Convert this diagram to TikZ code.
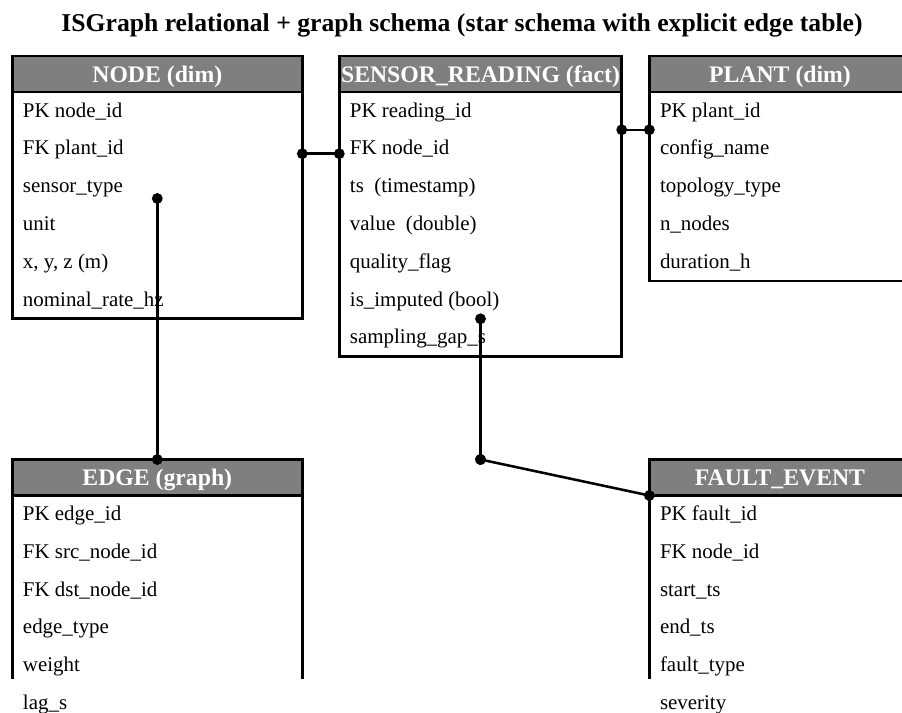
\documentclass[tikz,border=0pt]{standalone}
\usepackage{fontspec}
\setmainfont{Liberation Serif}
\usetikzlibrary{arrows.meta,positioning,calc}
\definecolor{tabgray}{HTML}{7F7F7F}

\begin{document}
\begin{tikzpicture}[
  x=0.75pt, y=-0.75pt,
  tabline/.style={line width=2.2pt},
  thead/.style={draw, tabline, fill=tabgray, text=white, minimum height=27pt,
                inner sep=0pt, outer sep=0pt, text height=14pt, text depth=1.7pt,
                font=\fontsize{17.8}{20}\selectfont\bfseries},
  fieldrow/.style={minimum height=28.35pt, inner xsep=8pt, inner ysep=0pt,
                   outer sep=0pt, text height=11.5pt, text depth=2.3pt,
                   font=\fontsize{15.7}{18}\selectfont},
  rel/.style={line width=1.9pt, {Circle[length=8pt]}-{Circle[length=8pt]},
              shorten <=-4pt, shorten >=-4pt},
  ttl/.style={font=\fontsize{19.25}{22}\selectfont\bfseries},
]
\clip (0,0) rectangle (902,713);

% ===== title =====
\node[ttl, anchor=base] (title) at (462,32)
  {ISGraph relational + graph schema (star schema with explicit edge table)};

% ===== NODE (dim) =====
\node[thead, minimum width=217.5pt] (nodeh) at (157.3,74) {NODE (dim)};
\node[fieldrow, below right=0pt of nodeh.south west] (node1) {PK node\_id};
\node[fieldrow, below right=0pt of node1.south west] (node2) {FK plant\_id};
\node[fieldrow, below right=0pt of node2.south west] (node3) {sensor\_type};
\node[fieldrow, below right=0pt of node3.south west] (node4) {unit};
\node[fieldrow, below right=0pt of node4.south west] (node5) {x, y, z (m)};
\node[fieldrow, below right=0pt of node5.south west] (node6) {nominal\_rate\_hz};
\draw[tabline] (nodeh.south west) rectangle (nodeh.south east |- node6.south);

% ===== SENSOR_READING (fact) =====
\node[thead, minimum width=211.8pt] (srh) at (480.5,74) {SENSOR\_READING (fact)};
\node[fieldrow, below right=0pt of srh.south west] (sr1) {PK reading\_id};
\node[fieldrow, below right=0pt of sr1.south west] (sr2) {FK node\_id};
\node[fieldrow, below right=0pt of sr2.south west] (sr3) {ts\ \ (timestamp)};
\node[fieldrow, below right=0pt of sr3.south west] (sr4) {value\ \ (double)};
\node[fieldrow, below right=0pt of sr4.south west] (sr5) {quality\_flag};
\node[fieldrow, below right=0pt of sr5.south west] (sr6) {is\_imputed (bool)};
\node[fieldrow, below right=0pt of sr6.south west] (sr7) {sampling\_gap\_s};
\draw[tabline] (srh.south west) rectangle (srh.south east |- sr7.south);

% ===== PLANT (dim) =====
\node[thead, minimum width=196pt] (planth) at (780,74) {PLANT (dim)};
\node[fieldrow, below right=0pt of planth.south west] (plant1) {PK plant\_id};
\node[fieldrow, below right=0pt of plant1.south west] (plant2) {config\_name};
\node[fieldrow, below right=0pt of plant2.south west] (plant3) {topology\_type};
\node[fieldrow, below right=0pt of plant3.south west] (plant4) {n\_nodes};
\node[fieldrow, below right=0pt of plant4.south west] (plant5) {duration\_h};
\draw[tabline] (planth.south west) rectangle (planth.south east |- plant5.south);

% ===== lower tables, cut off at the page edge =====
\coordinate (cut) at (0,679);

% EDGE (graph)
\node[thead, minimum width=217.5pt] (edgeh) at (157.3,477.5) {EDGE (graph)};
\node[fieldrow, below right=0pt of edgeh.south west] (edge1) {PK edge\_id};
\node[fieldrow, below right=0pt of edge1.south west] (edge2) {FK src\_node\_id};
\node[fieldrow, below right=0pt of edge2.south west] (edge3) {FK dst\_node\_id};
\node[fieldrow, below right=0pt of edge3.south west] (edge4) {edge\_type};
\node[fieldrow, below right=0pt of edge4.south west] (edge5) {weight};
\node[fieldrow, below right=0pt of edge5.south west] (edge6) {lag\_s};
\draw[tabline] (edgeh.south west) -- (edgeh.south west |- cut);
\draw[tabline] (edgeh.south east) -- (edgeh.south east |- cut);

% FAULT_EVENT
\node[thead, minimum width=196pt] (faulth) at (780,477.5) {FAULT\_EVENT};
\node[fieldrow, below right=0pt of faulth.south west] (fault1) {PK fault\_id};
\node[fieldrow, below right=0pt of fault1.south west] (fault2) {FK node\_id};
\node[fieldrow, below right=0pt of fault2.south west] (fault3) {start\_ts};
\node[fieldrow, below right=0pt of fault3.south west] (fault4) {end\_ts};
\node[fieldrow, below right=0pt of fault4.south west] (fault5) {fault\_type};
\node[fieldrow, below right=0pt of fault5.south west] (fault6) {severity};
\draw[tabline] (faulth.south west) -- (faulth.south west |- cut);
\draw[tabline] (faulth.south east) -- (faulth.south east |- cut);

% ===== relations =====
\draw[rel] ($(node2.center -| nodeh.east)+(0,5)$) -- ($(node2.center -| srh.west)+(0,5)$);
\draw[rel] (sr1.south -| srh.east) -- (plant1.south -| planth.west);
\draw[rel] ($(node3.center -| nodeh.north)+(0,12)$) -- (edgeh.north);
\coordinate (bend) at (srh.north |- faulth.north);
\draw[rel] (sr6.south -| srh.north) -- (bend);
\draw[rel] (bend) -- (faulth.south west);

\end{tikzpicture}
\end{document}
